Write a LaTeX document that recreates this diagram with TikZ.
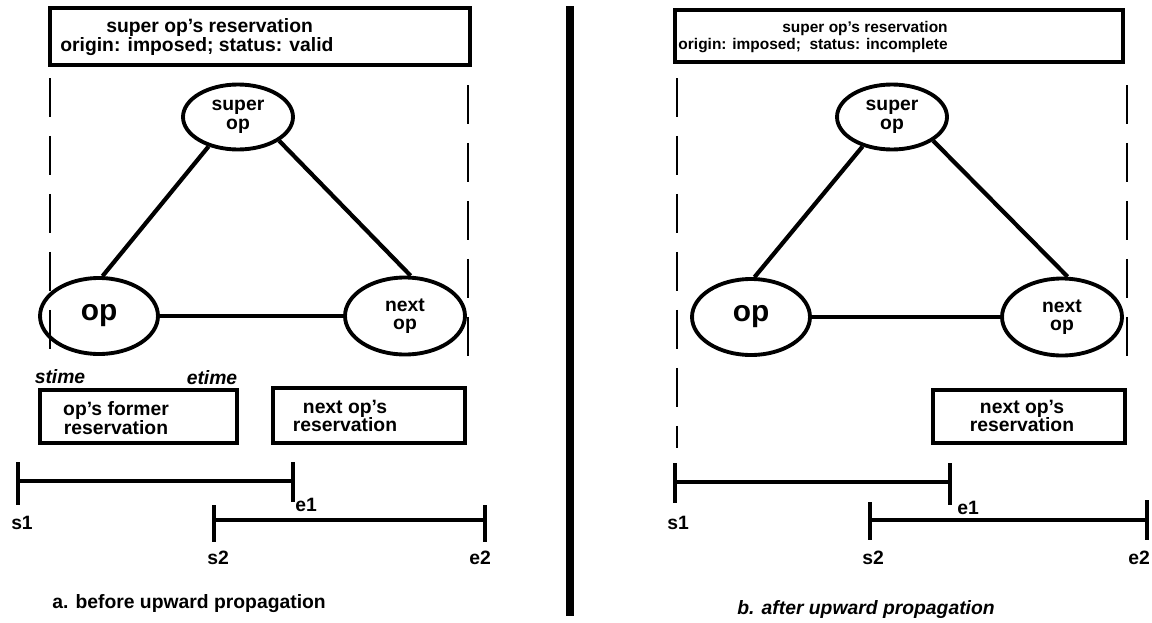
\documentclass[tikz,border=0pt]{standalone}
\usepackage{fontspec}
\setmainfont{Liberation Sans}
\usetikzlibrary{shapes.geometric}

\begin{document}
\begin{tikzpicture}[x=0.02cm, y=-0.02cm,
    every node/.style={font=\fontsize{11}{10.5}\selectfont\bfseries, inner sep=0pt},
    opnode/.style={draw, ellipse, line width=2.2pt, align=center},
    bigop/.style={font=\fontsize{17}{17}\selectfont\bfseries},
    slant/.style={font=\fontsize{11}{10.5}\selectfont\bfseries\itshape},
    small text/.style={font=\fontsize{8.8}{10}\selectfont\bfseries},
    resbox/.style={line width=2pt},
    link/.style={line width=2.4pt},
    fence/.style={line width=1.5pt, dash pattern=on 22pt off 11pt},
    span/.style={line width=2.2pt}]
      \useasboundingbox (0,0) rectangle (1152,622);

      % a. before upward propagation
      \draw[resbox] (50,8) rectangle (470,65);
      \node[anchor=west] (supresa) at (106,28) {super op's reservation};
      \node[anchor=west] (statusa) at (60,47) {origin: imposed; status: valid};
      \draw[fence] (50,78) -- (50,358);
      \draw[fence] (468,85) -- (468,372);

      \node[opnode, minimum width=2.2cm, minimum height=1.3cm] (superopa) at (238,117) {super\\op};
      \node[opnode, bigop, minimum width=2.36cm, minimum height=1.52cm] (opa) at (99,316) {op};
      \node[opnode, minimum width=2.4cm, minimum height=1.54cm] (nextopa) at (405,316) {next\\op};
      \draw[link] (superopa.225) -- (opa.85);
      \draw[link] (superopa.330) -- (nextopa.82);
      \draw[line width=1.8pt] (opa) -- (nextopa);

      \node[slant] (stimea) at (60,377) {stime};
      \node[slant] (etimea) at (212,378) {etime};
      \draw[resbox] (40,390) rectangle (237,443);
      \node[align=center] (oldresa) at (116,418) {op's former\\reservation};
      \draw[resbox] (273,388) rectangle (465,443);
      \node[align=center] (nextresa) at (345,416) {next op's\\reservation};

      \draw[span] (18,462) -- (18,505);
      \draw[span] (18,481) -- (293,481);
      \draw[span] (293,462) -- (293,502);
      \node (e1a) at (306,505) {e1};
      \node (s1a) at (22,523) {s1};
      \draw[span] (214,505) -- (214,542);
      \draw[span] (214,520) -- (485,520);
      \draw[span] (485,505) -- (485,542);
      \node (s2a) at (218,558) {s2};
      \node (e2a) at (480,558) {e2};
      \node (capa) at (189,604) {a. before upward propagation};

      \draw[line width=4.5pt] (570,6) -- (570,616);

      % b. after upward propagation
      \draw[resbox] (675,10) rectangle (1123,62);
      \node[small text, align=right, anchor=east] (supresb) at (948,37) {super op's reservation\\origin: imposed;\ \ status: incomplete};
      \draw[fence] (677,78) -- (677,448);
      \draw[fence] (1127,85) -- (1127,373);

      \node[opnode, minimum width=2.2cm, minimum height=1.3cm] (superopb) at (892,117) {super\\op};
      \node[opnode, bigop, minimum width=2.36cm, minimum height=1.52cm] (opb) at (751,317) {op};
      \node[opnode, minimum width=2.4cm, minimum height=1.54cm] (nextopb) at (1062,317) {next\\op};
      \draw[link] (superopb.225) -- (opb.85);
      \draw[link] (superopb.330) -- (nextopb.82);
      \draw[line width=1.8pt] (opb) -- (nextopb);

      \draw[resbox] (933,390) rectangle (1125,443);
      \node[align=center] (nextresb) at (1022,416) {next op's\\reservation};

      \draw[span] (675,463) -- (675,503);
      \draw[span] (675,482) -- (950,482);
      \draw[span] (950,463) -- (950,505);
      \node (e1b) at (968,508) {e1};
      \node (s1b) at (678,523) {s1};
      \draw[span] (870,502) -- (870,540);
      \draw[span] (870,520) -- (1147,520);
      \draw[span] (1147,500) -- (1147,540);
      \node (s2b) at (873,558) {s2};
      \node (e2b) at (1139,558) {e2};
      \node[slant] (capb) at (866,609) {b. after upward propagation};
    \end{tikzpicture}
\end{document}
